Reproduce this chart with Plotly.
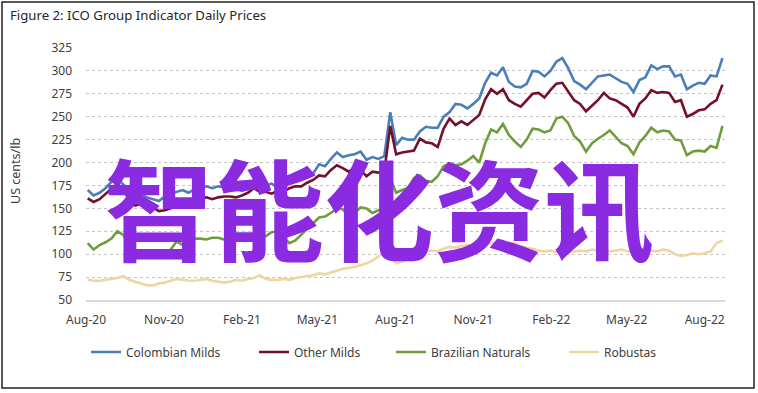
import pandas as pd
import plotly.graph_objects as go

# ---- data (weekly readings, US cents/lb) ----
dates = pd.date_range("2020-08-03", periods=108, freq="7D")

colombian_milds = [
    170,164,167,172,179,182,176,170,166,165,
    162,160,158,163,166,168,170,167,171,173,
    174,172,174,173,170,171,169,171,176,178,
    175,177,173,171,178,181,183,186,188,198,
    196,204,211,206,208,209,212,203,206,204,
    207,255,219,227,225,225,234,239,238,238,
    250,255,264,263,259,264,270,287,298,295,
    304,288,283,282,286,300,299,294,300,310,
    314,303,289,285,280,287,294,295,296,292,
    288,286,277,290,293,306,302,305,305,294,
    296,280,284,287,286,295,294,314]

other_milds = [
    161,157,160,166,172,177,170,160,153,155,
    150,151,147,148,150,152,156,158,160,161,
    162,160,162,163,163,162,164,167,172,168,
    168,166,169,168,172,174,174,178,181,186,
    185,192,197,194,190,194,192,185,190,189,
    190,240,209,211,212,213,226,222,221,217,
    237,248,241,245,241,246,252,269,280,275,
    280,268,264,261,268,275,276,271,279,286,
    287,278,268,264,256,262,268,276,270,268,
    264,260,250,264,270,279,276,277,276,266,
    268,250,253,257,258,264,268,285]

brazilian_naturals = [
    112,105,110,113,117,125,121,110,104,100,
    97,96,98,96,105,114,110,113,117,117,
    116,118,118,116,114,117,116,116,122,115,
    120,124,125,119,112,115,121,127,134,140,
    141,145,150,149,142,145,151,150,145,148,
    150,183,167,170,172,183,186,180,179,185,
    196,199,197,198,202,207,200,221,236,233,
    242,230,223,217,225,237,236,233,235,248,
    250,243,229,223,212,221,226,230,235,228,
    221,218,209,222,229,238,233,235,234,225,
    224,208,212,213,212,218,216,240]

robustas = [
    72,71,71,72,73,74,76,72,70,68,
    66,66,68,69,71,73,72,71,71,72,
    73,71,70,69,70,72,71,73,74,77,
    73,72,72,73,72,74,75,76,77,79,
    78,80,82,84,85,86,88,90,93,98,
    102,96,90,92,95,98,100,103,104,103,
    106,108,107,109,110,108,111,110,112,111,
    110,112,112,109,107,106,104,103,104,102,
    103,102,103,104,103,105,104,102,103,104,
    105,103,104,105,104,104,103,105,104,100,
    98,99,101,100,101,103,112,115]

series_names = ["Colombian Milds", "Other Milds", "Brazilian Naturals", "Robustas"]
series_values = [colombian_milds, other_milds, brazilian_naturals, robustas]
series_colors = ["#4A7EBB", "#76102A", "#6E9E3C", "#EED5A2"]

y_ticks = [50, 75, 100, 125, 150, 175, 200, 225, 250, 275, 300, 325]

title_text = "Figure 2: ICO Group Indicator Daily Prices"
y_title = "US cents/lb"
watermark = "智能化资讯"

for v in series_values:
    assert len(v) == len(dates)

# ---- figure ----
FONT = "Noto Sans, Open Sans, DejaVu Sans, sans-serif"
W, H = 758, 393
L, R, T, B = 86, 33, 48, 93
pw, ph = W - L - R, H - T - B

def px_x(px):
    return (px - L) / pw

def px_y(py):
    return (H - B - py) / ph

fig = go.Figure()
legend_ids = ["legend", "legend2", "legend3", "legend4"]
legend_px = [94, 262, 399, 572]
for name, vals, col, lg in zip(series_names, series_values, series_colors, legend_ids):
    fig.add_trace(go.Scatter(x=dates, y=vals, name=name, mode="lines",
                             line=dict(color=col, width=2.6), legend=lg))

layout_legends = {}
for lg, lx in zip(legend_ids, legend_px):
    layout_legends[lg] = dict(orientation="h", x=px_x(lx - 8), xanchor="left",
                              y=px_y(352), yanchor="middle",
                              font=dict(family=FONT, size=12, color="#404040"),
                              bgcolor="rgba(0,0,0,0)", borderwidth=0)

fig.update_layout(
    width=W, height=H,
    margin=dict(l=L, r=R, t=T, b=B),
    paper_bgcolor="white", plot_bgcolor="white",
    showlegend=True,
    font=dict(family=FONT, size=12, color="#404040"),
    **layout_legends,
)

fig.update_xaxes(
    type="date",
    range=["2020-08-01", "2022-08-25"],
    tick0="2020-08-01", dtick="M3", tickformat="%b-%y",
    showgrid=False, zeroline=False,
    showline=True, linecolor="#D9D9D9", linewidth=1.5,
    ticks="", ticklabelstandoff=8,
    tickfont=dict(family=FONT, size=12, color="#404040"),
)
fig.update_yaxes(
    range=[50, 325], tickvals=y_ticks,
    showgrid=True, gridcolor="#C4C4C4", gridwidth=1.2, griddash="dot",
    zeroline=False, showline=False, ticks="", ticklabelstandoff=13,
    tickfont=dict(family=FONT, size=12, color="#404040"),
)

# outer frame
fig.add_shape(type="rect", xref="paper", yref="paper",
              x0=px_x(2), x1=px_x(754), y0=px_y(388), y1=px_y(2),
              line=dict(color="#222222", width=1.5), fillcolor="rgba(0,0,0,0)",
              layer="below")

fig.add_annotation(text=title_text, xref="paper", yref="paper",
                   x=px_x(8), y=px_y(15), xanchor="left", yanchor="middle",
                   showarrow=False, font=dict(family=FONT, size=13.2, color="#262626"))
fig.add_annotation(text=y_title, xref="paper", yref="paper",
                   x=px_x(15), y=px_y(171), xanchor="center", yanchor="middle",
                   textangle=-90, showarrow=False,
                   font=dict(family=FONT, size=12.5, color="#404040"))
fig.add_annotation(text="<b>" + watermark + "</b>", xref="paper", yref="paper",
                   x=px_x(379), y=px_y(205), xanchor="center", yanchor="middle",
                   showarrow=False,
                   font=dict(family="Noto Sans CJK SC", size=110, color="#8A2BE2"))

fig.write_html("out.html", config={"displayModeBar": False},
               post_script="document.body.style.margin='0';")
